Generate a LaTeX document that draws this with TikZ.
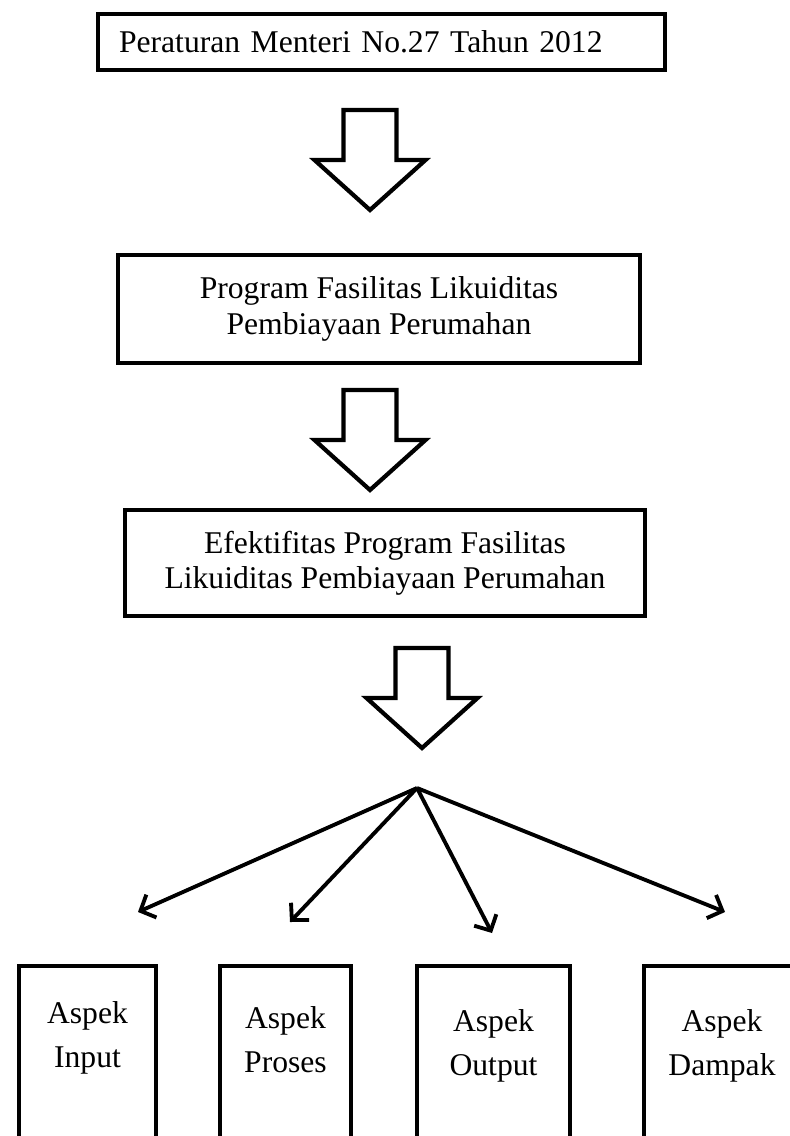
\documentclass[tikz,border=0pt]{standalone}
\usepackage{fontspec}
\setmainfont{Liberation Serif}
\usepackage{tikz}
\usetikzlibrary{arrows.meta,positioning,calc}

\begin{document}
\begin{tikzpicture}[
    node distance=0.50cm,
    mainbox/.style={rectangle, draw, line width=2.4pt, align=center,
                    font=\fontsize{18}{20}\selectfont},
    aspekbox/.style={rectangle, draw, line width=2.4pt, anchor=north,
                     minimum height=5cm},
    aspektext/.style={align=center, font=\fontsize{18}{25}\selectfont},
    blockarrow/.style={draw, line width=2.4pt, fill=white, line join=miter},
    fanarrow/.style={-{Straight Barb[length=2.4mm, width=5mm]}, line width=2.2pt}
]
\useasboundingbox (0,0) rectangle (15.8,-22.72);
\clip (0,0) rectangle (15.8,-22.72);

%% ---- Kotak utama ----
\node[mainbox, minimum width=11.34cm, minimum height=1.12cm, text width=10.5cm,
      inner xsep=0.42cm, align=left] (permen) at (7.63,-0.84)
      {Peraturan Menteri No.27 Tahun 2012};
\node[mainbox, minimum width=10.44cm, minimum height=2.16cm] (program) at (7.58,-6.18)
      {Program Fasilitas Likuiditas\\Pembiayaan Perumahan};
\node[mainbox, minimum width=10.40cm, minimum height=2.12cm] (efektif) at (7.70,-11.26)
      {Efektifitas Program Fasilitas\\Likuiditas Pembiayaan Perumahan};

%% ---- Panah blok ----
\coordinate (t1) at (7.40,-4.20);
\coordinate (t2) at (7.40,-9.80);
\coordinate (t3) at (8.44,-14.96);
\draw[blockarrow] (t1) -- ++(-1.11,1.0) -- ++(0.58,0) -- ++(0,1.0) -- ++(1.06,0) -- ++(0,-1.0) -- ++(0.58,0) -- cycle;
\draw[blockarrow] (t2) -- ++(-1.11,1.0) -- ++(0.58,0) -- ++(0,1.0) -- ++(1.06,0) -- ++(0,-1.0) -- ++(0.58,0) -- cycle;
\draw[blockarrow] (t3) -- ++(-1.11,1.0) -- ++(0.58,0) -- ++(0,1.0) -- ++(1.06,0) -- ++(0,-1.0) -- ++(0.58,0) -- cycle;

%% ---- Aspek ----
\node[aspekbox, minimum width=2.74cm] (input)  at (1.75,-19.28)  {};
\node[aspekbox, minimum width=2.62cm] (proses) at (5.71,-19.28)  {};
\node[aspekbox, minimum width=3.06cm] (output) at (9.87,-19.28)  {};
\node[aspekbox, minimum width=3.12cm] (dampak) at (14.44,-19.28) {};
\node[aspektext, below=0.62cm of input.north]  (tin)  {Aspek\\Input};
\node[aspektext, below=0.72cm of proses.north] (tpr)  {Aspek\\Proses};
\node[aspektext, below=0.78cm of output.north] (tout) {Aspek\\Output};
\node[aspektext, below=0.78cm of dampak.north] (tdam) {Aspek\\Dampak};

%% ---- Cabang ----
\coordinate (fan) at (8.34,-15.76);
\coordinate (e1) at (2.76,-18.24);
\coordinate (e2) at (5.80,-18.44);
\coordinate (e3) at (9.84,-18.66);
\coordinate (e4) at (14.50,-18.24);
\draw[fanarrow] (fan)--(e1);
\draw[fanarrow] (fan)--(e2);
\draw[fanarrow] (fan)--(e3);
\draw[fanarrow] (fan)--(e4);

\end{tikzpicture}
\end{document}
